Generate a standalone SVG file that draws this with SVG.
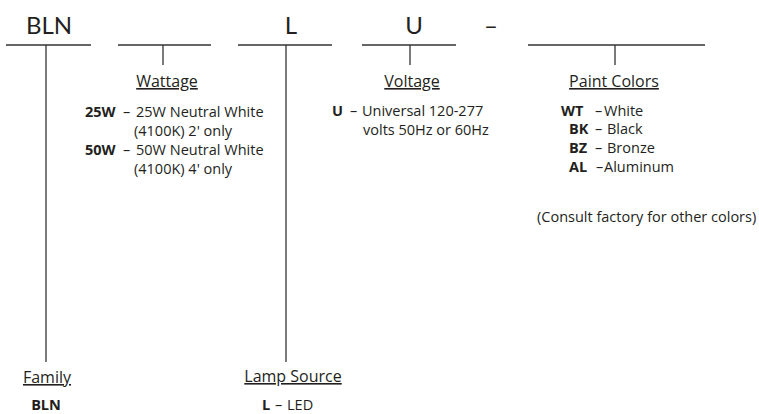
<svg xmlns="http://www.w3.org/2000/svg" width="759" height="414" viewBox="0 0 759 414">
<style>
text{font-family:"Open Sans","Liberation Sans",sans-serif;fill:#231f20}
.code{font-family:Lato,"Open Sans",sans-serif;font-size:24px}
.hd{font-size:16px;text-decoration:underline;text-anchor:middle}
.it{font-size:14.5px}
.b{font-weight:bold}
line{stroke:#333;stroke-width:1.3}
</style>
<rect width="759" height="414" fill="#fff"/>
<g id="connectors">
<line x1="6" y1="45" x2="91" y2="45"/>
<line x1="118" y1="45" x2="211" y2="45"/>
<line x1="238" y1="45" x2="332" y2="45"/>
<line x1="362" y1="45" x2="456" y2="45"/>
<line x1="528" y1="45" x2="705" y2="45"/>
<line x1="46" y1="45" x2="46" y2="362"/>
<line x1="163" y1="45" x2="163" y2="65"/>
<line x1="286" y1="45" x2="286" y2="362"/>
<line x1="410" y1="45" x2="410" y2="65"/>
<line x1="615" y1="45" x2="615" y2="65"/>
</g>
<g id="codes">
<text class="code" x="49" y="34" text-anchor="middle">BLN</text>
<text class="code" x="291" y="34" text-anchor="middle">L</text>
<text class="code" x="414" y="34" text-anchor="middle">U</text>
<text class="code" x="491" y="34" text-anchor="middle">–</text>
</g>
<g id="family">
<text class="hd" x="47" y="383">Family</text>
<text class="it b" x="46" y="410" text-anchor="middle">BLN</text>
</g>
<g id="wattage">
<text class="hd" x="167" y="87">Wattage</text>
<text class="it" y="117"><tspan class="b" x="85">25W</tspan><tspan x="123">–</tspan><tspan x="136">25W Neutral White</tspan></text>
<text class="it" x="134" y="136">(4100K) 2' only</text>
<text class="it" y="155"><tspan class="b" x="85">50W</tspan><tspan x="123">–</tspan><tspan x="136">50W Neutral White</tspan></text>
<text class="it" x="134" y="174">(4100K) 4' only</text>
</g>
<g id="lamp-source">
<text class="hd" x="293" y="382">Lamp Source</text>
<text class="it" y="410"><tspan class="b" x="262">L</tspan><tspan x="275">–</tspan><tspan x="287">LED</tspan></text>
</g>
<g id="voltage">
<text class="hd" x="412" y="87">Voltage</text>
<text class="it" y="116"><tspan class="b" x="332">U</tspan><tspan x="350">–</tspan><tspan x="362">Universal 120-277</tspan></text>
<text class="it" x="363" y="135">volts 50Hz or 60Hz</text>
</g>
<g id="paint-colors">
<text class="hd" x="614" y="87">Paint Colors</text>
<text class="it" y="116"><tspan class="b" x="561">WT</tspan><tspan x="595">–</tspan><tspan x="604">White</tspan></text>
<text class="it" y="134"><tspan class="b" x="569">BK</tspan><tspan x="595">–</tspan><tspan x="607">Black</tspan></text>
<text class="it" y="153"><tspan class="b" x="569">BZ</tspan><tspan x="595">–</tspan><tspan x="607">Bronze</tspan></text>
<text class="it" y="172"><tspan class="b" x="569">AL</tspan><tspan x="596">–</tspan><tspan x="604">Aluminum</tspan></text>
<text class="it" x="537" y="222">(Consult factory for other colors)</text>
</g>
</svg>
